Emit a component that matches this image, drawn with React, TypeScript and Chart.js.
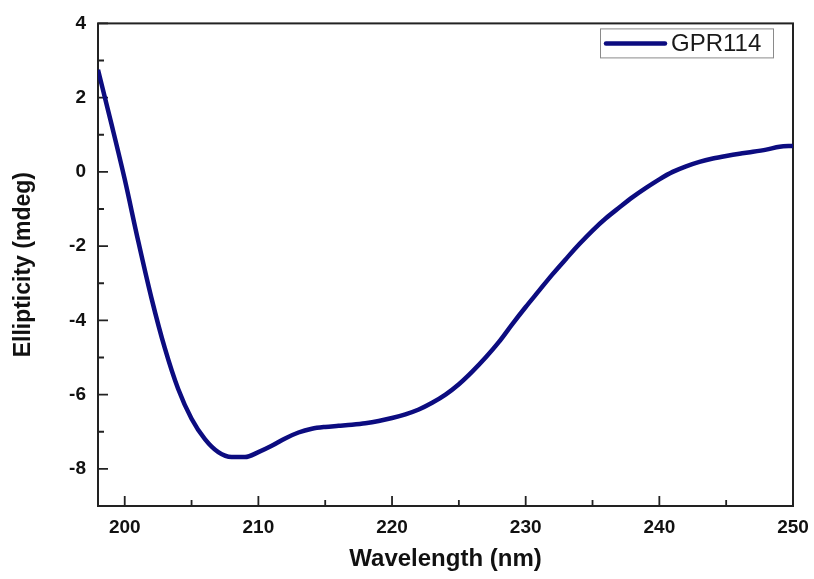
import React, { useEffect, useRef } from "react";
import { Chart, registerables } from "chart.js";

Chart.register(...registerables);

const WAVELENGTH = [198, 199, 200, 201, 202, 203, 204, 205, 206, 207, 208, 209, 210, 211, 212, 213, 214, 215, 216, 217, 218, 219, 220, 221, 222, 223, 224, 225, 226, 227, 228, 229, 230, 231, 232, 233, 234, 235, 236, 237, 238, 239, 240, 241, 242, 243, 244, 245, 246, 247, 248, 249, 250];
const ELLIPTICITY = [2.75, 1.3, -0.2, -1.85, -3.4, -4.75, -5.85, -6.65, -7.2, -7.55, -7.68, -7.68, -7.55, -7.38, -7.18, -7.02, -6.92, -6.87, -6.84, -6.81, -6.77, -6.71, -6.63, -6.53, -6.4, -6.22, -6.0, -5.72, -5.38, -5.0, -4.58, -4.1, -3.64, -3.2, -2.76, -2.35, -1.95, -1.58, -1.25, -0.96, -0.68, -0.43, -0.2, 0.0, 0.15, 0.27, 0.36, 0.43, 0.49, 0.54, 0.6, 0.68, 0.7];
const X_TICKS = [200, 210, 220, 230, 240, 250];
const X_MINOR = [205, 215, 225, 235, 245];
const Y_TICKS = [-8, -6, -4, -2, 0, 2, 4];
const Y_MINOR = [-9, -7, -5, -3, -1, 1, 3];
const SERIES_LABEL = "GPR114";
const X_TITLE = "Wavelength (nm)";
const Y_TITLE = "Ellipticity (mdeg)";

const LINE_COLOR = "#0c0c80";
const AXIS_COLOR = "#222222";
const FONT = "'Liberation Sans', Arial, Helvetica, sans-serif";

const framePlugin = {
  id: "frameTicks",
  beforeDatasetsDraw(chart: any) {
    const { ctx, chartArea } = chart;
    const { left, right, top, bottom } = chartArea;
    const xs = chart.scales.x;
    const ys = chart.scales.y;
    ctx.save();
    ctx.strokeStyle = AXIS_COLOR;
    ctx.lineWidth = 2;
    ctx.strokeRect(left, top, right - left, bottom - top);
    ctx.lineWidth = 1.8;
    ctx.beginPath();
    const tick = (v: number, len: number, isX: boolean) => {
      if (isX) {
        const p = xs.getPixelForValue(v);
        ctx.moveTo(p, bottom);
        ctx.lineTo(p, bottom - len);
      } else {
        const p = ys.getPixelForValue(v);
        ctx.moveTo(left, p);
        ctx.lineTo(left + len, p);
      }
    };
    X_TICKS.forEach((v) => tick(v, 10, true));
    X_MINOR.forEach((v) => tick(v, 6, true));
    Y_TICKS.forEach((v) => tick(v, 10, false));
    Y_MINOR.forEach((v) => tick(v, 6, false));
    ctx.stroke();
    ctx.restore();
  },
  afterDraw(chart: any) {
    const { ctx, chartArea } = chart;
    const bx = chartArea.right - 193;
    const by = chartArea.top + 5;
    const bw = 173;
    const bh = 29;
    ctx.save();
    ctx.strokeStyle = "#8a8a8a";
    ctx.lineWidth = 1;
    ctx.strokeRect(bx + 0.5, by + 0.5, bw, bh);
    ctx.strokeStyle = LINE_COLOR;
    ctx.lineWidth = 4.5;
    ctx.lineCap = "round";
    ctx.beginPath();
    ctx.moveTo(bx + 6, by + bh / 2 + 0.5);
    ctx.lineTo(bx + 65, by + bh / 2 + 0.5);
    ctx.stroke();
    ctx.fillStyle = "#1a1a1a";
    ctx.font = `24px ${FONT}`;
    ctx.textBaseline = "middle";
    ctx.textAlign = "left";
    ctx.fillText(SERIES_LABEL, bx + 71, by + bh / 2 + 1);
    ctx.restore();
  },
};

export default function App() {
  const ref = useRef<HTMLCanvasElement | null>(null);

  useEffect(() => {
    if (!ref.current) return;
    const chart = new Chart(ref.current, {
      type: "line",
      data: {
        datasets: [
          {
            label: SERIES_LABEL,
            data: WAVELENGTH.map((w, i) => ({ x: w, y: ELLIPTICITY[i] })),
            borderColor: LINE_COLOR,
            borderWidth: 4.5,
            pointRadius: 0,
            cubicInterpolationMode: "monotone",
            fill: false,
          },
        ],
      },
      options: {
        responsive: false,
        animation: false,
        layout: { padding: { top: 21, right: 21, left: 0, bottom: 0 } },
        plugins: { legend: { display: false }, tooltip: { enabled: false } },
        scales: {
          x: {
            type: "linear",
            min: 198,
            max: 250,
            grid: { display: false, drawTicks: false },
            border: { display: false },
            afterBuildTicks: (s: any) => {
              s.ticks = X_TICKS.map((v) => ({ value: v }));
            },
            afterFit: (s: any) => {
              s.height = 73;
              s.paddingLeft = 0;
              s.paddingRight = 0;
            },
            ticks: {
              callback: (v: any) => String(v),
              color: "#111",
              padding: 10,
              maxRotation: 0,
              font: { family: FONT, size: 19, weight: "bold" },
            },
            title: {
              display: true,
              text: X_TITLE,
              color: "#111",
              padding: { top: 0, bottom: 8 },
              font: { family: FONT, size: 24, weight: "bold", lineHeight: 1 },
            },
          },
          y: {
            type: "linear",
            min: -9,
            max: 4,
            grid: { display: false, drawTicks: false },
            border: { display: false },
            afterBuildTicks: (s: any) => {
              s.ticks = Y_TICKS.map((v) => ({ value: v }));
            },
            afterFit: (s: any) => {
              s.width = 98;
            },
            ticks: {
              callback: (v: any) => String(v),
              color: "#111",
              padding: 12,
              font: { family: FONT, size: 19, weight: "bold" },
            },
            title: {
              display: true,
              text: Y_TITLE,
              color: "#111",
              padding: { top: 12, bottom: 0 },
              font: { family: FONT, size: 23, weight: "bold", lineHeight: 1 },
            },
          },
        },
      },
      plugins: [framePlugin],
    } as any);
    return () => chart.destroy();
  }, []);

  return (
    <div style={{ position: "fixed", left: 0, top: 0, width: 814, height: 579, background: "#fff" }}>
      <canvas ref={ref} width={814} height={579} />
    </div>
  );
}
